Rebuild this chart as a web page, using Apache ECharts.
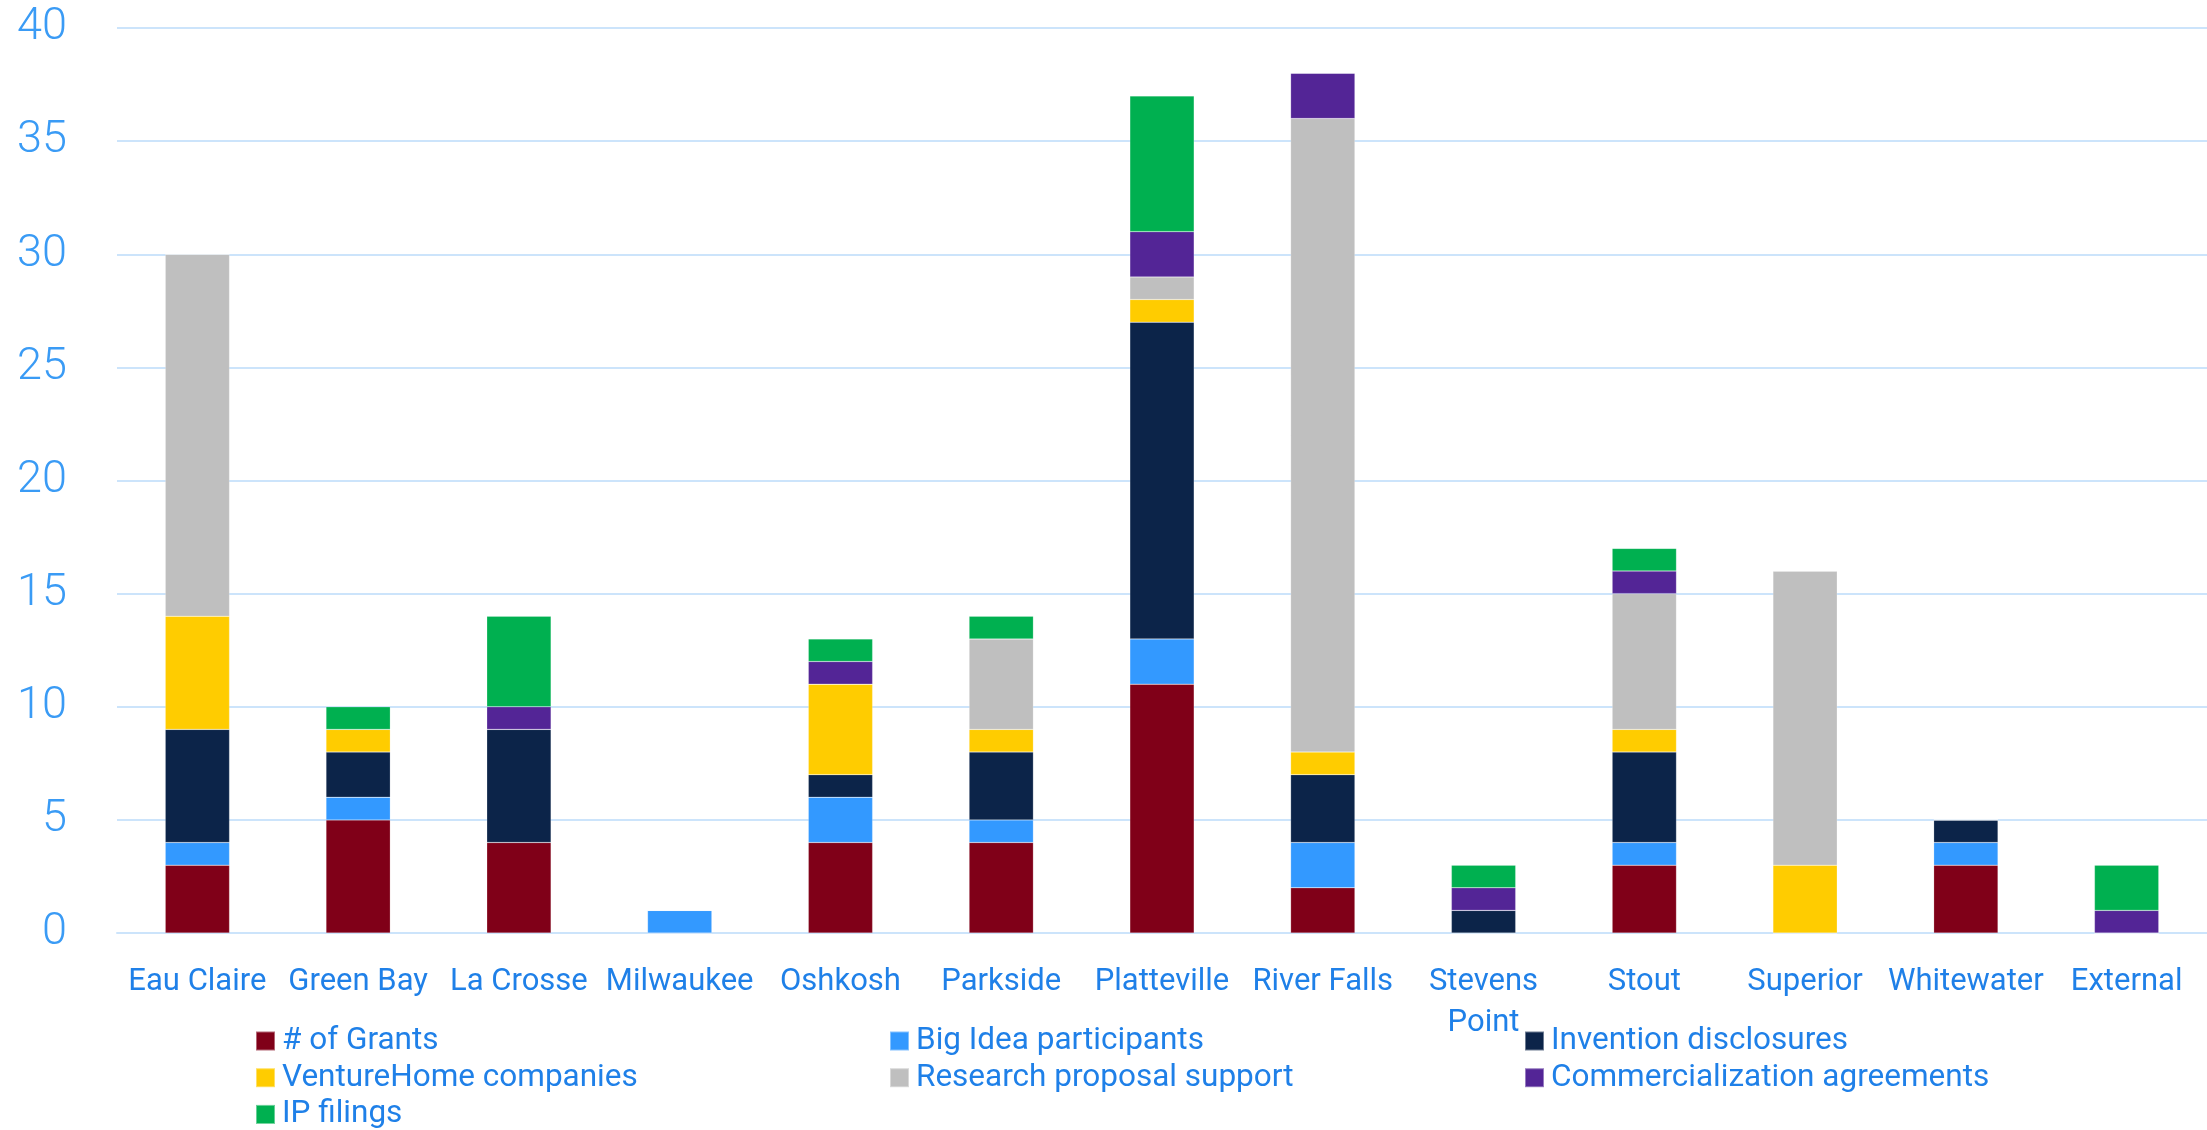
<!DOCTYPE html>
<html>
<head>
<meta charset="utf-8">
<script src="https://cdn.jsdelivr.net/npm/echarts@6/dist/echarts.min.js"></script>
<style>
html,body{margin:0;padding:0;background:#fff;}
#chart{width:2207px;height:1130px;}
</style>
</head>
<body>
<div id="chart"></div>
<script>
const categories = ["Eau Claire","Green Bay","La Crosse","Milwaukee","Oshkosh","Parkside","Platteville","River Falls","Stevens Point","Stout","Superior","Whitewater","External"];
const yTicks = [0,5,10,15,20,25,30,35,40];

const grants        = [3,5,4,0,4,4,11,2,0,3,0,3,0];
const bigIdea       = [1,1,0,1,2,1,2,2,0,1,0,1,0];
const invention     = [5,2,5,0,1,3,14,3,1,4,0,1,0];
const ventureHome   = [5,1,0,0,4,1,1,1,0,1,3,0,0];
const research      = [16,0,0,0,0,4,1,28,0,6,13,0,0];
const commercial    = [0,0,1,0,1,0,2,2,1,1,0,0,1];
const ipFilings     = [0,1,4,0,1,1,6,0,1,1,0,0,2];

const seriesNames = ["# of Grants","Big Idea participants","Invention disclosures","VentureHome companies","Research proposal support","Commercialization agreements","IP filings"];
const seriesData = [grants,bigIdea,invention,ventureHome,research,commercial,ipFilings];
const colors = ["#800018","#3399ff","#0c2449","#ffcc00","#bfbfbf","#532596","#00b050"];

const chart = echarts.init(document.getElementById('chart'));
const textBlue = '#1f80e8';
const legendCommon = {
  orient: 'vertical',
  top: 1025,
  height: 300,
  padding: 0,
  itemWidth: 19,
  itemHeight: 19,
  itemGap: 4.7,
  icon: 'rect',
  textStyle: {color: textBlue, fontSize: 31.5, fontFamily: 'Roboto', lineHeight: 30, padding: [0,0,0,2]}
};
chart.setOption({
  animation: false,
  color: colors,
  grid: {left: 117, right: 0, top: 28, bottom: 197, containLabel: false},
  legend: [
    Object.assign({}, legendCommon, {left: 255, data: [seriesNames[0], seriesNames[3], seriesNames[6]]}),
    Object.assign({}, legendCommon, {left: 889, data: [seriesNames[1], seriesNames[4]]}),
    Object.assign({}, legendCommon, {left: 1524, data: [seriesNames[2], seriesNames[5]]})
  ],
  xAxis: {
    type: 'category',
    data: categories,
    axisLine: {show: true, lineStyle: {color: '#cce4fb', width: 2}},
    axisTick: {show: false},
    axisLabel: {
      color: textBlue, fontSize: 31, fontFamily: 'Roboto', margin: 29, lineHeight: 41,
      interval: 0,
      formatter: v => v === 'Stevens Point' ? 'Stevens\nPoint' : v
    }
  },
  yAxis: {
    type: 'value',
    min: yTicks[0], max: yTicks[yTicks.length-1], interval: 5,
    axisLine: {show: false},
    axisTick: {show: false},
    splitLine: {lineStyle: {color: '#cce4fb', width: 2}},
    axisLabel: {color: '#3a9bf5', fontSize: 45, fontWeight: 300, fontFamily: 'Roboto', margin: 50}
  },
  series: seriesNames.map((n, i) => ({
    name: n,
    type: 'bar',
    stack: 'total',
    barWidth: '40%',
    data: seriesData[i],
    itemStyle: {color: colors[i], borderColor: 'rgba(255,255,255,0.4)', borderWidth: 0.5}
  }))
});
</script>
</body>
</html>
